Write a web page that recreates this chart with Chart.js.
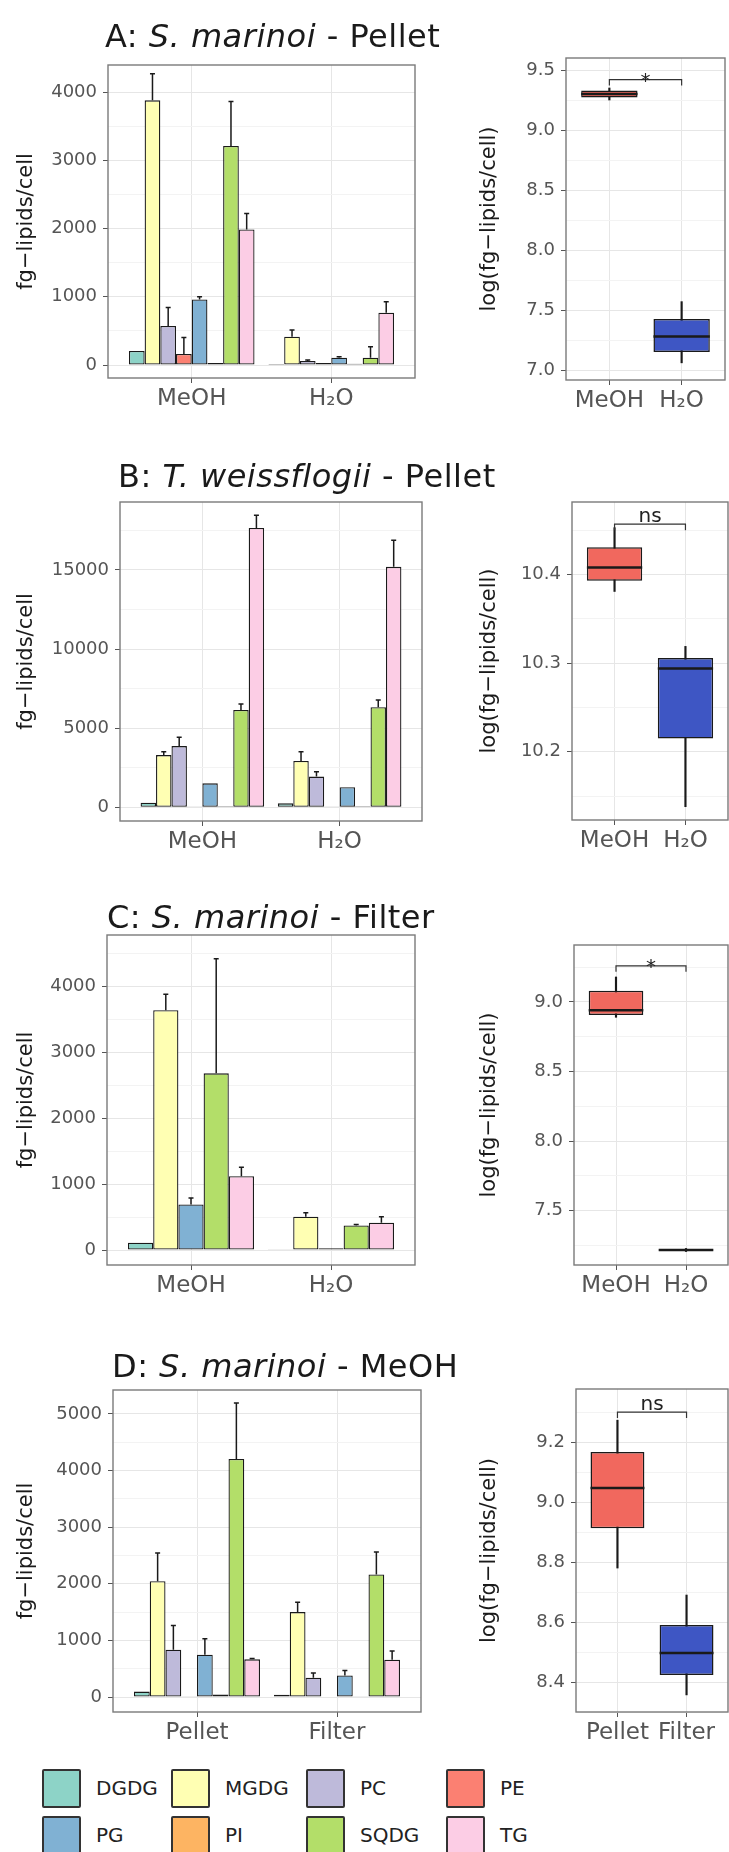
<!DOCTYPE html>
<html lang="en">
  <head>
    <meta charset="UTF-8" />
    <title>Lipid classes per cell</title>
    <script src="https://cdn.jsdelivr.net/npm/chart.js"></script>
    <style>
      body { margin: 0; background: #fff; font-family: "DejaVu Sans", sans-serif; }
      .page { position: relative; width: 729px; height: 1852px; overflow: hidden; }
      .page canvas { position: absolute; }
      .title { position: absolute; font-size: 32px; line-height: 32px; letter-spacing: 0.5px; color: #1a1a1a; white-space: nowrap; z-index: 2; }
      .key { position: absolute; width: 35px; height: 35px; border: 2px solid #333; border-radius: 2px; }
      .key-label { position: absolute; font-size: 20px; line-height: 24px; color: #222; }
    </style>
  </head>
  <body>
    <div class="page" id="page">
      <div class="title" style="left: 105px; top: 20px">A: <i>S. marinoi</i> - Pellet</div>
      <div class="title" style="left: 118px; top: 460px">B: <i>T. weissflogii</i> - Pellet</div>
      <div class="title" style="left: 107px; top: 901px">C: <i>S. marinoi</i> - Filter</div>
      <div class="title" style="left: 112px; top: 1350px">D: <i>S. marinoi</i> - MeOH</div>

      <canvas id="barA"></canvas>
      <canvas id="boxA"></canvas>
      <canvas id="barB"></canvas>
      <canvas id="boxB"></canvas>
      <canvas id="barC"></canvas>
      <canvas id="boxC"></canvas>
      <canvas id="barD"></canvas>
      <canvas id="boxD"></canvas>
    </div>

    <script>
      // lipid classes and their fill colours
      const classes = ["DGDG", "MGDG", "PC", "PE", "PG", "PI", "SQDG", "TG"];
      const classColors = ["#8DD3C7", "#FFFFB3", "#BEBADA", "#FB8072", "#80B1D3", "#FDB462", "#B3DE69", "#FCCDE5"];
      const classesC = ["DGDG", "MGDG", "PG", "SQDG", "TG"];

      const solvents = ["MeOH", "H₂O"];
      const samples = ["Pellet", "Filter"];
      const boxColors = ["#F1685E", "#3E56C4"];

      // A: S. marinoi - Pellet (mean, top of error bar)
      const aMeohMean = [205, 3878, 571, 161, 961, 30, 3210, 1985];
      const aMeohTop = [null, 4268, 844, 405, 1000, null, 3863, 2220];
      const aH2oMean = [15, 415, 60, 30, 107, 20, 107, 766];
      const aH2oTop = [null, 512, 75, null, 120, null, 268, 927];

      // B: T. weissflogii - Pellet
      const bMeohMean = [295, 3300, 3870, 20, 1515, 60, 6150, 17660];
      const bMeohTop = [null, 3515, 4420, null, null, null, 6530, 18460];
      const bH2oMean = [250, 2925, 1940, 20, 1265, 60, 6320, 15200];
      const bH2oTop = [null, 3515, 2250, null, null, null, 6780, 16880];

      // C: S. marinoi - Filter (only 5 classes)
      const cMeohMean = [110, 3634, 690, 2677, 1117];
      const cMeohTop = [null, 3875, 790, 4414, 1253];
      const cH2oMean = [12, 503, 25, 372, 413];
      const cH2oTop = [null, 564, null, 387, 503];

      // D: S. marinoi - MeOH
      const dPelletMean = [95, 2047, 835, 15, 747, 45, 4205, 665];
      const dPelletTop = [null, 2544, 1265, null, 1030, null, 5194, 680];
      const dFilterMean = [40, 1500, 341, 10, 382, 15, 2165, 659];
      const dFilterTop = [null, 1676, 424, null, 470, null, 2562, 812];

      // log(fg-lipids/cell) boxes: [min, q1, median, q3, max]
      const aBoxMeoh = [9.25, 9.27, 9.3, 9.33, 9.35];
      const aBoxH2o = [7.06, 7.15, 7.28, 7.425, 7.57];
      const bBoxMeoh = [10.381, 10.393, 10.408, 10.431, 10.453];
      const bBoxH2o = [10.138, 10.215, 10.294, 10.306, 10.319];
      const cBoxMeoh = [8.89, 8.906, 8.94, 9.08, 9.18];
      const cBoxH2o = [7.205, 7.21, 7.216, 7.222, 7.227];
      const dBoxPellet = [8.78, 8.913, 9.047, 9.167, 9.273];
      const dBoxFilter = [8.357, 8.423, 8.497, 8.59, 8.69];

      // significance brackets
      const brackets = { A: [9.42, "*"], B: [10.457, "ns"], C: [9.26, "*"], D: [9.3, "ns"] };

      // tick labels
      const barTicksA = [0, 1000, 2000, 3000, 4000];
      const barTicksB = [0, 5000, 10000, 15000];
      const barTicksC = [0, 1000, 2000, 3000, 4000];
      const barTicksD = [0, 1000, 2000, 3000, 4000, 5000];
      const boxTicksA = [7.0, 7.5, 8.0, 8.5, 9.0, 9.5];
      const boxTicksB = [10.2, 10.3, 10.4];
      const boxTicksC = [7.5, 8.0, 8.5, 9.0];
      const boxTicksD = [8.4, 8.6, 8.8, 9.0, 9.2];

      Chart.defaults.font.family = '"DejaVu Sans", sans-serif';
      Chart.defaults.color = "#555";

      const errorBars = {
        id: "errorBars",
        afterDatasetsDraw(chart) {
          const { ctx } = chart;
          const y = chart.scales.y;
          ctx.save();
          ctx.strokeStyle = "#1a1a1a";
          ctx.lineWidth = 1.5;
          chart.data.datasets.forEach((ds, i) => {
            if (!ds.errTop) return;
            chart.getDatasetMeta(i).data.forEach((bar, j) => {
              const t = ds.errTop[j];
              if (t == null) return;
              const yt = y.getPixelForValue(t);
              ctx.beginPath();
              ctx.moveTo(bar.x, bar.y);
              ctx.lineTo(bar.x, yt);
              ctx.moveTo(bar.x - 2.5, yt);
              ctx.lineTo(bar.x + 2.5, yt);
              ctx.stroke();
            });
          });
          ctx.restore();
        },
      };

      const boxMarks = {
        id: "boxMarks",
        afterDatasetsDraw(chart, args, opts) {
          if (!opts.label) return;
          const { ctx } = chart;
          const { x, y } = chart.scales;
          const ds = chart.data.datasets[0];
          ctx.save();
          ctx.strokeStyle = "#1a1a1a";
          ctx.lineWidth = 2.5;
          chart.getDatasetMeta(0).data.forEach((el, j) => {
            const m = y.getPixelForValue(ds.medians[j]);
            ctx.beginPath();
            ctx.moveTo(el.x - el.width / 2, m);
            ctx.lineTo(el.x + el.width / 2, m);
            ctx.stroke();
          });
          const by = y.getPixelForValue(opts.y);
          const x1 = x.getPixelForValue(1);
          const x2 = x.getPixelForValue(2);
          ctx.lineWidth = 1.2;
          ctx.strokeStyle = "#333";
          ctx.beginPath();
          ctx.moveTo(x1, by + 6);
          ctx.lineTo(x1, by);
          ctx.lineTo(x2, by);
          ctx.lineTo(x2, by + 6);
          ctx.stroke();
          ctx.fillStyle = "#222";
          ctx.font = '20px "DejaVu Sans"';
          ctx.textAlign = "center";
          ctx.textBaseline = "alphabetic";
          ctx.fillText(opts.label, (x1 + x2) / 2, opts.label === "*" ? by + 7 : by - 2);
          ctx.restore();
        },
      };

      const panelFrame = {
        id: "panelFrame",
        afterDatasetsDraw(chart) {
          const { ctx, chartArea: a } = chart;
          ctx.save();
          ctx.strokeStyle = "#7a7a7a";
          ctx.lineWidth = 1.4;
          ctx.strokeRect(a.left, a.top, a.right - a.left, a.bottom - a.top);
          ctx.restore();
        },
      };

      function withMinors(majors, min, max) {
        const step = majors[1] - majors[0];
        const vals = [];
        for (let k = -1; k <= majors.length * 2 + 2; k++) {
          const v = +(majors[0] + (k * step) / 2).toFixed(4);
          if (v >= min && v <= max) vals.push(v);
        }
        return vals;
      }

      function makeChart(id, p, datasets, bracket) {
        const canvas = document.getElementById(id);
        canvas.width = p.cw;
        canvas.height = p.ch;
        canvas.style.left = p.cx + "px";
        canvas.style.top = p.cy + "px";

        const ticks = withMinors(p.majors, p.yMin, p.yMax);
        const isMajor = (v) => p.majors.some((m) => Math.abs(m - v) < 1e-6);

        return new Chart(canvas, {
          type: "bar",
          data: { datasets },
          options: {
            responsive: false,
            animation: false,
            devicePixelRatio: 1,
            layout: {
              padding: { left: 0, bottom: 0, top: p.frame[1] - p.cy, right: p.cx + p.cw - p.frame[2] },
            },
            plugins: {
              legend: { display: false },
              tooltip: { enabled: false },
              boxMarks: bracket ? { y: bracket[0], label: bracket[1] } : {},
            },
            scales: {
              x: {
                type: "linear",
                min: 0.4,
                max: 2.6,
                offset: false,
                bounds: "data",
                afterBuildTicks: (s) => {
                  s.ticks = [{ value: 1 }, { value: 2 }];
                },
                afterFit: (s) => {
                  s.height = p.cy + p.ch - p.frame[3];
                },
                ticks: {
                  callback: (v) => p.groups[Math.round(v) - 1],
                  font: { size: 23 },
                  padding: 2,
                  autoSkip: false,
                  maxRotation: 0,
                },
                grid: { offset: false, color: "#e6e6e6", tickColor: "#555", tickLength: 5 },
                border: { display: false },
              },
              y: {
                type: "linear",
                min: p.yMin,
                max: p.yMax,
                afterBuildTicks: (s) => {
                  s.ticks = ticks.map((v) => ({ value: v }));
                },
                afterFit: (s) => {
                  s.width = p.frame[0] - p.cx;
                },
                ticks: {
                  callback: (v) => (isMajor(v) ? p.fmt(v) : ""),
                  font: { size: 18 },
                  padding: 6,
                  autoSkip: false,
                },
                grid: {
                  color: (c) => (c.tick && isMajor(c.tick.value) ? "#e6e6e6" : "#f3f3f3"),
                  tickColor: (c) => (c.tick && isMajor(c.tick.value) ? "#555" : "rgba(0,0,0,0)"),
                  tickLength: 5,
                },
                border: { display: false },
                title: {
                  display: true,
                  text: p.yTitle,
                  color: "#1a1a1a",
                  font: { size: 21 },
                  padding: { top: p.titlePad, bottom: 0 },
                },
              },
            },
          },
          plugins: [errorBars, boxMarks, panelFrame],
        });
      }

      function barDatasets(names, mean1, top1, mean2, top2) {
        return names.map((name, i) => ({
          label: name,
          data: [
            { x: 1, y: mean1[i] },
            { x: 2, y: mean2[i] },
          ],
          errTop: [top1[i], top2[i]],
          backgroundColor: classColors[classes.indexOf(name)],
          borderColor: "#1a1a1a",
          borderWidth: 1.3,
          borderSkipped: false,
          categoryPercentage: 0.9,
          barPercentage: 1,
        }));
      }

      function boxDatasets(g1, g2) {
        return [
          {
            label: "box",
            data: [
              { x: 1, y: [g1[1], g1[3]] },
              { x: 2, y: [g2[1], g2[3]] },
            ],
            medians: [g1[2], g2[2]],
            backgroundColor: boxColors,
            borderColor: "#1a1a1a",
            borderWidth: 1.5,
            borderSkipped: false,
            grouped: false,
            categoryPercentage: 1,
            barPercentage: 0.78,
          },
          {
            label: "whisker",
            data: [
              { x: 1, y: [g1[0], g1[4]] },
              { x: 2, y: [g2[0], g2[4]] },
            ],
            backgroundColor: "#1a1a1a",
            borderWidth: 0,
            grouped: false,
            categoryPercentage: 1,
            barPercentage: 1,
            maxBarThickness: 1.5,
          },
        ];
      }

      const fmtInt = (v) => String(v);
      const fmtDec = (v) => v.toFixed(1);
      const barTitle = "fg−lipids/cell";
      const boxTitle = "log(fg−lipids/cell)";

      // canvas starts 20px above the panel so the top tick label padding never pushes the frame down
      function barPanel(frame, yMin, yMax, majors, groups) {
        return { frame, yMin, yMax, majors, groups, cx: 0, cy: frame[1] - 20, cw: frame[2] + 8, ch: frame[3] - frame[1] + 65, fmt: fmtInt, yTitle: barTitle, titlePad: 14 };
      }
      function boxPanel(frame, yMin, yMax, majors, groups) {
        return { frame, yMin, yMax, majors, groups, cx: 458, cy: frame[1] - 20, cw: 271, ch: frame[3] - frame[1] + 65, fmt: fmtDec, yTitle: boxTitle, titlePad: 19 };
      }

      makeChart("barA", barPanel([108, 65, 415, 378], -190, 4396, barTicksA, solvents), barDatasets(classes, aMeohMean, aMeohTop, aH2oMean, aH2oTop));
      makeChart("boxA", boxPanel([566, 58, 725, 380], 6.917, 9.6, boxTicksA, solvents), boxDatasets(aBoxMeoh, aBoxH2o), brackets.A);

      makeChart("barB", barPanel([120, 502, 422, 821], -866, 19298, barTicksB, solvents), barDatasets(classes, bMeohMean, bMeohTop, bH2oMean, bH2oTop));
      makeChart("boxB", boxPanel([572, 502, 728, 820], 10.123, 10.482, boxTicksB, solvents), boxDatasets(bBoxMeoh, bBoxH2o), brackets.B);

      makeChart("barC", barPanel([107, 935, 415, 1265], -227, 4773, barTicksC, solvents), barDatasets(classesC, cMeohMean, cMeohTop, cH2oMean, cH2oTop));
      makeChart("boxC", boxPanel([574, 945, 728, 1265], 7.108, 9.41, boxTicksC, solvents), boxDatasets(cBoxMeoh, cBoxH2o), brackets.C);

      makeChart("barD", barPanel([113, 1390, 421, 1712], -265, 5424, barTicksD, samples), barDatasets(classes, dPelletMean, dPelletTop, dFilterMean, dFilterTop));
      makeChart("boxD", boxPanel([576, 1389, 728, 1712], 8.3, 9.377, boxTicksD, samples), boxDatasets(dBoxPellet, dBoxFilter), brackets.D);

      // legend, 4 per row
      const page = document.getElementById("page");
      const keyCols = [42, 171, 306, 446];
      const keyRows = [1769, 1816];
      classes.forEach((name, i) => {
        const left = keyCols[i % 4];
        const top = keyRows[Math.floor(i / 4)];
        const key = document.createElement("div");
        key.className = "key";
        key.style.left = left + "px";
        key.style.top = top + "px";
        key.style.background = classColors[i];
        const label = document.createElement("div");
        label.className = "key-label";
        label.style.left = left + 54 + "px";
        label.style.top = top + 7 + "px";
        label.textContent = name;
        page.appendChild(key);
        page.appendChild(label);
      });
    </script>
  </body>
</html>
